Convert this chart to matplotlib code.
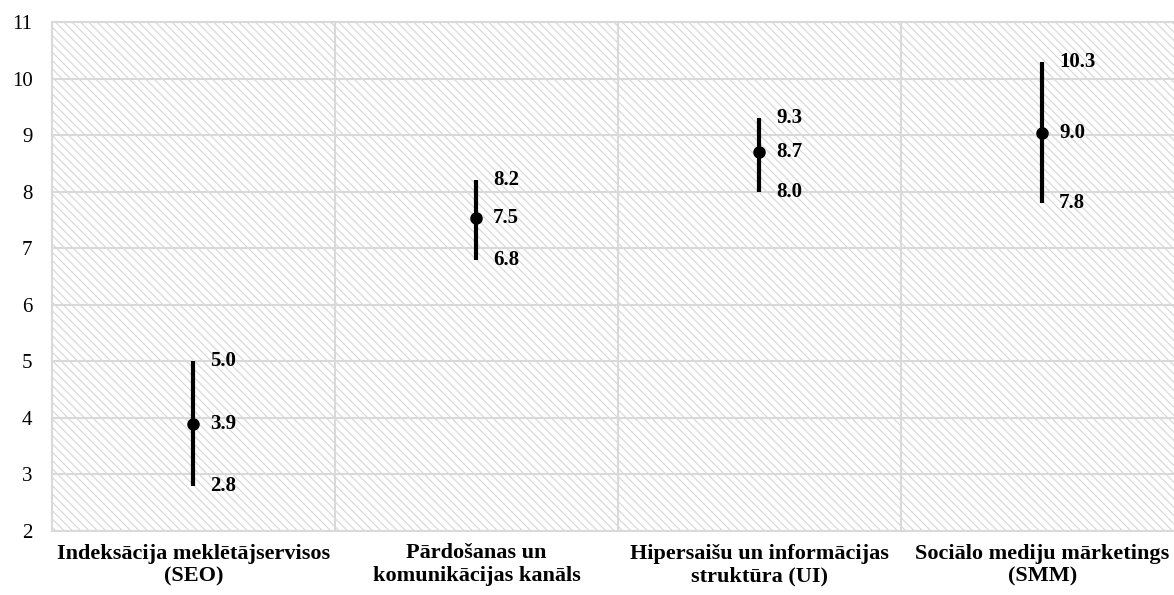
import matplotlib
matplotlib.use("Agg")
import matplotlib.pyplot as plt
from matplotlib.patches import Rectangle
import numpy as np

categories = ["Indeksācija meklētājservisos\n(SEO)",
              "Pārdošanas un\nkomunikācijas kanāls",
              "Hipersaišu un informācijas\nstruktūra (UI)",
              "Sociālo mediju mārketings\n(SMM)"]
high_vals = [5.0, 8.2, 9.3, 10.3]
mean_vals = [3.9, 7.54, 8.7, 9.04]
low_vals = [2.8, 6.8, 8.0, 7.8]

plt.rcParams['font.family'] = ['Liberation Serif', 'DejaVu Serif']
plt.rcParams['hatch.linewidth'] = 0.8
plt.rcParams['hatch.color'] = '#d6d6d6'

fig = plt.figure(figsize=(11.74, 5.95), dpi=100)
ax = fig.add_axes([52/1174, 1-531/595, 1132/1174, (531-22)/595])

x = np.arange(len(categories))
ax.set_xlim(-0.5, len(categories) - 0.5)
ax.set_ylim(2, 11)

# hatched background
bg = Rectangle((0, 0), 1, 1, transform=ax.transAxes, facecolor='white',
               edgecolor='#d6d6d6', hatch='\\\\\\\\', linewidth=0, zorder=0)
ax.add_patch(bg)

ax.set_yticks(np.arange(2, 12, 1))
ax.set_xticks(x)
ax.set_xticks(x[:-1] + 0.5, minor=True)
ax.set_xticklabels(categories, fontsize=16, fontweight='bold', linespacing=1.2)
ax.tick_params(axis='x', which='both', length=0, pad=9)
ax.tick_params(axis='y', length=0, labelsize=15, pad=14)
ax.grid(axis='y', which='major', color='#d9d9d9', linewidth=1.5, zorder=1)
ax.grid(axis='x', which='minor', color='#d9d9d9', linewidth=1.5, zorder=1)
ax.grid(axis='x', which='major', visible=False)
for s in ax.spines.values():
    s.set_color('#d9d9d9')
    s.set_linewidth(1.5)

lo = np.array(low_vals)
hi = np.array(high_vals)
mn = np.array(mean_vals)
ax.vlines(x, lo, hi, color='black', linewidth=3, zorder=3)
ax.plot(x, mn, 'o', color='black', markersize=8, zorder=4)

for xi, l, m, h in zip(x, lo, mn, hi):
    for v in (l, m, h):
        ax.annotate(f"{v:.1f}", (xi, v), xytext=(12, 0), textcoords='offset points',
                    va='center', ha='left', fontsize=15, fontweight='bold', zorder=5)

fig.savefig('out.png', dpi=100)
